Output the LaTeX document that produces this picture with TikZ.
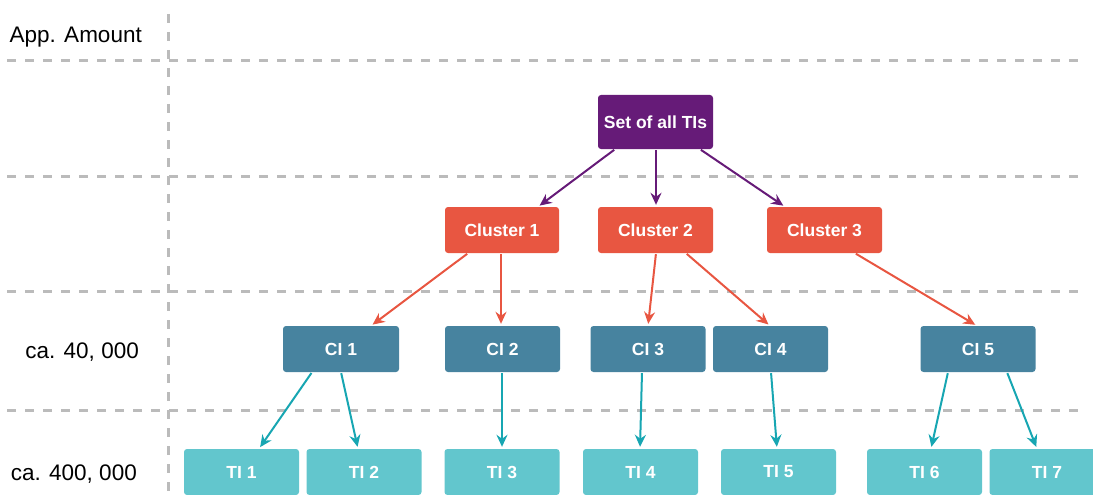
\documentclass[tikz,border=0pt]{standalone}
\usepackage{fontspec}
\setmainfont{Liberation Sans}
\usetikzlibrary{arrows.meta}

\definecolor{setpurple}{HTML}{661B78}
\definecolor{clusterred}{HTML}{E85641}
\definecolor{ciblue}{HTML}{47839F}
\definecolor{tiaqua}{HTML}{62C6CD}
\definecolor{arrowteal}{HTML}{17A6B2}
\definecolor{gridgray}{HTML}{BBBBBB}

\tikzset{
  box/.style={rectangle, rounded corners=3pt, text=white, inner sep=0pt,
    minimum width=115pt, minimum height=46pt,
    font=\fontsize{17.5}{21}\selectfont\bfseries},
  setbox/.style={box, fill=setpurple, minimum height=54pt},
  clbox/.style={box, fill=clusterred},
  cibox/.style={box, fill=ciblue},
  tibox/.style={box, fill=tiaqua},
  gridline/.style={draw=gridgray, line width=3pt, dash pattern=on 9pt off 9pt},
  lbl/.style={inner sep=0pt, font=\fontsize{22.5}{27}\selectfont, text=black},
  link/.style={line width=2pt, shorten <=1pt, shorten >=2pt,
    -{Stealth[length=12pt, width=11pt, inset=4pt]}},
  plink/.style={link, draw=setpurple},
  rlink/.style={link, draw=clusterred},
  tlink/.style={link, draw=arrowteal},
}

\begin{document}
\begin{tikzpicture}[x=1pt, y=-1pt]
  \useasboundingbox (0,0) rectangle (1093,495);
  \clip (0,0) rectangle (1093,495);

  % grid of levels
  \foreach \yy in {61,176,291,410}
    \draw[gridline] (7,\yy) -- (1085,\yy);
  \draw[gridline] (168,14) -- (168,495);

  % level labels
  \node[lbl, anchor=base east] (lapp) at (142,42.7) {App. Amount};
  \node[lbl, anchor=base east] (lci)  at (139,358) {ca. 40, 000};
  \node[lbl, anchor=base east] (lti)  at (137,480) {ca. 400, 000};

  % root
  \node[setbox] (set) at (655.5,122) {Set of all TIs};

  % clusters
  \node[clbox, minimum width=114pt] (cl1) at (502,230)   {Cluster 1};
  \node[clbox] (cl2) at (655.5,230) {Cluster 2};
  \node[clbox] (cl3) at (824.5,230) {Cluster 3};

  % CIs
  \node[cibox, minimum width=116pt] (ci1) at (341,349) {CI 1};
  \node[cibox] (ci2) at (502.5,349) {CI 2};
  \node[cibox] (ci3) at (648,349)   {CI 3};
  \node[cibox] (ci4) at (770.5,349) {CI 4};
  \node[cibox] (ci5) at (978,349)   {CI 5};

  % TIs
  \node[tibox] (ti1) at (241.5,472) {TI 1};
  \node[tibox] (ti2) at (364,472)   {TI 2};
  \node[tibox] (ti3) at (502,472)   {TI 3};
  \node[tibox] (ti4) at (640.5,472) {TI 4};
  \node[tibox] (ti5) at (778.5,472) {TI 5};
  \node[tibox] (ti6) at (924.5,472) {TI 6};
  \node[tibox] (ti7) at (1047,472)  {TI 7};

  % root -> clusters
  \draw[plink] ([xshift=-40.5pt]set.south) -- ([xshift=36pt]cl1.north);
  \draw[plink] ([xshift=0.5pt]set.south)   -- ([xshift=0.5pt]cl2.north);
  \draw[plink] ([xshift=44.5pt]set.south)  -- ([xshift=-39.5pt]cl3.north);

  % clusters -> CIs
  \draw[rlink] ([xshift=-34pt]cl1.south)  -- ([xshift=30pt]ci1.north);
  \draw[rlink] ([xshift=-1pt]cl1.south)   -- ([xshift=-1.5pt]ci2.north);
  \draw[rlink] ([xshift=0.5pt]cl2.south)  -- ([xshift=0pt]ci3.north);
  \draw[rlink] ([xshift=30.5pt]cl2.south) -- ([xshift=-0.5pt]ci4.north);
  \draw[rlink] ([xshift=30.5pt]cl3.south) -- ([xshift=-1pt]ci5.north);

  % CIs -> TIs
  \draw[tlink] ([xshift=-29pt]ci1.south) -- ([xshift=17.5pt]ti1.north);
  \draw[tlink] ([xshift=0pt]ci1.south)   -- ([xshift=-6pt]ti2.north);
  \draw[tlink] ([xshift=-0.5pt]ci2.south) -- ([xshift=0pt]ti3.north);
  \draw[tlink] ([xshift=-6pt]ci3.south)  -- ([xshift=-0.5pt]ti4.north);
  \draw[tlink] ([xshift=0.5pt]ci4.south) -- ([xshift=-1.5pt]ti5.north);
  \draw[tlink] ([xshift=-30pt]ci5.south) -- ([xshift=6.5pt]ti6.north);
  \draw[tlink] ([xshift=29pt]ci5.south)  -- ([xshift=-10pt]ti7.north);
\end{tikzpicture}
\end{document}
